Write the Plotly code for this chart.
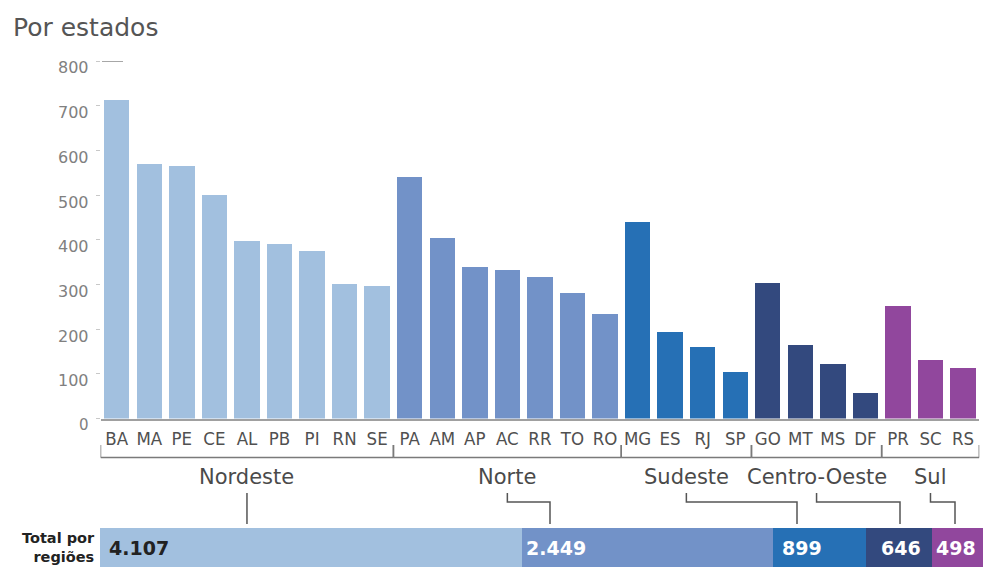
import plotly.graph_objects as go

W, H = 983, 567

# ---------------- data ----------------
regions = ["Nordeste", "Norte", "Sudeste", "Centro-Oeste", "Sul"]

nordeste_states = ["BA", "MA", "PE", "CE", "AL", "PB", "PI", "RN", "SE"]
nordeste_values = [712, 570, 565, 500, 398, 390, 375, 300, 297]

norte_states = ["PA", "AM", "AP", "AC", "RR", "TO", "RO"]
norte_values = [540, 405, 340, 333, 317, 280, 234]

sudeste_states = ["MG", "ES", "RJ", "SP"]
sudeste_values = [440, 194, 160, 105]

centro_oeste_states = ["GO", "MT", "MS", "DF"]
centro_oeste_values = [303, 164, 122, 57]

sul_states = ["PR", "SC", "RS"]
sul_values = [252, 132, 114]

region_totals = [4107, 2449, 899, 646, 498]
region_total_labels = ["4.107", "2.449", "899", "646", "498"]

y_tick_values = [0, 100, 200, 300, 400, 500, 600, 700, 800]
y_tick_labels = ["0", "100", "200", "300", "400", "500", "600", "700", "800"]

# ---------------- style ----------------
region_colors = ["#a2c0df", "#7292c8", "#2670b5", "#33497e", "#91479d"]
total_text_colors = ["#222222", "white", "white", "white", "white"]
total_text_shift = [7, 2, 7, 13, 2]          # px from segment start
leader_end_px = [248, 550, 797, 900, 955]     # where leaders hit the bar

FONT = "DejaVu Sans, Verdana, sans-serif"
COND = "DejaVu Sans Condensed, Liberation Sans Narrow, DejaVu Sans, sans-serif"


def fx(px):
    return px / W


def fy(py):
    return 1 - py / H


state_groups = [nordeste_states, norte_states, sudeste_states,
                centro_oeste_states, sul_states]
value_groups = [nordeste_values, norte_values, sudeste_values,
                centro_oeste_values, sul_values]
all_states = [s for g in state_groups for s in g]
n_states = len(all_states)

# plot geometry (pixels)
X_LEFT, X_RIGHT = 100.5, 979.3
Y_ZERO, Y_TOP = 418.5, 61.0
BAR2_TOP = 528

fig = go.Figure()

for reg, sts, vals, col in zip(regions, state_groups, value_groups, region_colors):
    fig.add_trace(go.Bar(
        x=sts, y=vals, name=reg, marker=dict(color=col, line=dict(width=0)),
        xaxis="x", yaxis="y", showlegend=False, hoverinfo="x+y"))

for reg, tot, col in zip(regions, region_totals, region_colors):
    fig.add_trace(go.Bar(
        x=[tot], y=[0], orientation="h", width=1, name=reg,
        marker=dict(color=col, line=dict(width=0)),
        xaxis="x2", yaxis="y2", showlegend=False))

shapes = []
annotations = []

# title
annotations.append(dict(text="Por estados", x=fx(11), y=fy(11), xref="paper", yref="paper",
                        xanchor="left", yanchor="top", showarrow=False,
                        font=dict(family=FONT, size=25, color="#555555")))

# y tick labels (sit slightly below their ticks, like the original)
for v, lab in zip(y_tick_values, y_tick_labels):
    annotations.append(dict(text=lab, x=fx(91), y=v, xref="paper", yref="y",
                            xanchor="right", yanchor="middle", yshift=-7, showarrow=False,
                            font=dict(family=FONT, size=16 if v else 15, color="#808080")))

# small dash at the top tick
shapes.append(dict(type="line", xref="paper", yref="y", x0=fx(102), x1=fx(123),
                   y0=800, y1=800, line=dict(color="#8a8a8a", width=1.5)))

# brackets + region names + leader lines
unit = (X_RIGHT - X_LEFT) / n_states
start = 0
BR_Y, BR_TICK = 457.5, 445
for i, (reg, sts) in enumerate(zip(regions, state_groups)):
    x0 = start - 0.5
    x1 = start + len(sts) - 0.5
    xc = (x0 + x1) / 2
    line = dict(color="#7a7a7a", width=1.5)
    shapes.append(dict(type="line", xref="x", yref="paper", x0=x0, x1=x1,
                       y0=fy(BR_Y), y1=fy(BR_Y), line=line))
    for xe in (x0, x1):
        shapes.append(dict(type="line", xref="x", yref="paper", x0=xe, x1=xe,
                           y0=fy(BR_TICK), y1=fy(BR_Y), line=line))
    annotations.append(dict(text=reg, x=xc, y=fy(477), xref="x", yref="paper",
                            xanchor="center", yanchor="middle", showarrow=False,
                            font=dict(family=FONT, size=21, color="#4a4a4a")))
    # leader
    pxc = X_LEFT + (xc + 0.5) * unit
    pe = leader_end_px[i]
    if abs(pe - pxc) < 3:
        path = f"M {fx(pxc)} {fy(493)} L {fx(pxc)} {fy(524)}"
    else:
        path = (f"M {fx(pxc)} {fy(493)} L {fx(pxc)} {fy(502)} "
                f"L {fx(pe)} {fy(502)} L {fx(pe)} {fy(524)}")
    shapes.append(dict(type="path", xref="paper", yref="paper", path=path,
                       line=dict(color="#555555", width=1.5)))
    start += len(sts)

# totals text inside the bottom bar
cum = 0
for tot, lab, tc, sh in zip(region_totals, region_total_labels, total_text_colors, total_text_shift):
    annotations.append(dict(text=f"<b>{lab}</b>", x=cum, y=0, xref="x2", yref="y2",
                            xanchor="left", yanchor="middle", xshift=sh, yshift=0,
                            showarrow=False,
                            font=dict(family=FONT, size=19, color=tc)))
    cum += tot

annotations.append(dict(text="<b>Total por</b><br><b>regiões</b>", x=fx(97), y=fy(528),
                        xref="paper", yref="paper", xanchor="right", yanchor="top",
                        align="right", showarrow=False,
                        font=dict(family=FONT, size=14.5, color="#222222")))

fig.update_layout(
    width=W, height=H,
    margin=dict(l=0, r=0, t=0, b=0),
    paper_bgcolor="white", plot_bgcolor="white",
    barmode="stack", bargap=0.22,
    shapes=shapes, annotations=annotations,
    xaxis=dict(domain=[fx(X_LEFT), fx(X_RIGHT)], type="category",
               categoryorder="array", categoryarray=all_states,
               range=[-0.5, n_states - 0.5], showline=True, linecolor="#a0a0a0",
               linewidth=1.5, ticks="", showgrid=False, zeroline=False,
               tickfont=dict(family=COND, size=18.5, color="#505050"),
               ticklabelstandoff=3, automargin=False, fixedrange=True),
    yaxis=dict(domain=[fy(Y_ZERO), fy(Y_TOP)], range=[0, 800],
               tickvals=y_tick_values, showticklabels=False,
               ticks="outside", ticklen=4, tickcolor="#c8c8c8", tickwidth=1,
               showgrid=False, zeroline=False, showline=False, automargin=False,
               fixedrange=True),
    xaxis2=dict(domain=[fx(100), 1], range=[0, sum(region_totals)], visible=False,
                anchor="y2", fixedrange=True),
    yaxis2=dict(domain=[0, fy(BAR2_TOP)], range=[-0.5, 0.5], visible=False,
                anchor="x2", fixedrange=True),
    font=dict(family=FONT),
)

fig.write_html("out.html",
               config={"displayModeBar": False},
               post_script="document.body.style.margin='0px';"
                           "document.body.style.overflow='hidden';")
